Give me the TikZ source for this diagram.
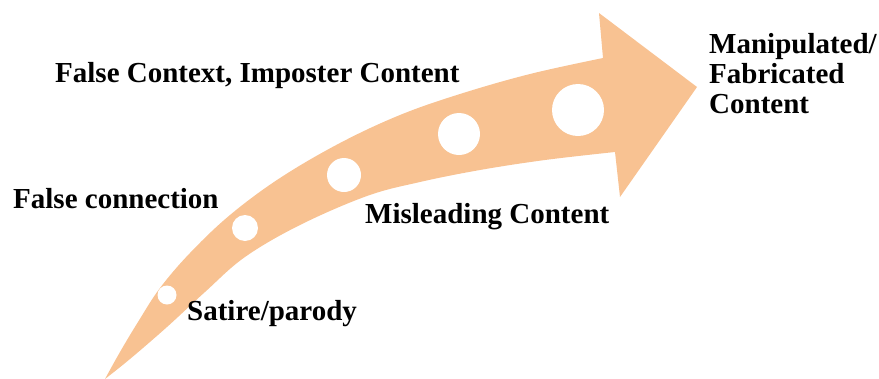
\documentclass[tikz,border=0pt]{standalone}
\usepackage{fontspec}
\setmainfont{Liberation Serif}
\definecolor{arrowfill}{RGB}{248,194,146}
\begin{document}
\begin{tikzpicture}[x=1pt,y=-1pt,
  lbl/.style={font=\bfseries\fontsize{29}{30}\selectfont, anchor=base west, inner sep=0pt, align=left},
  dot/.style={circle, fill=white, draw=none, inner sep=0pt}]
\useasboundingbox (0,0) rectangle (879,378);
% curved arrow
\fill[arrowfill] (105,379)
  -- plot[smooth, tension=0.6] coordinates {(105,379) (120,352) (138,322) (160,288) (190,253) (230,215) (280,178) (340,143) (400,115) (460,94) (530,74) (603,58)}
  -- (599,13) -- (697,87) -- (620,197) -- (615,152)
  -- plot[smooth, tension=0.6] coordinates {(615,152) (545,160) (480,170) (420,182) (367,196) (300,225) (245,257) (205,292) (167,327) (130,359) (105,379)}
  -- cycle;
% dots
\node[dot, minimum size=19pt] (d1) at (167,295) {};
\node[dot, minimum size=26pt] (d2) at (245,228) {};
\node[dot, minimum size=34pt] (d3) at (344,175) {};
\node[dot, minimum size=42pt] (d4) at (459,134) {};
\node[dot, minimum size=52pt] (d5) at (578,110) {};
% labels
\node[lbl] (l1) at (55,82) {False Context, Imposter Content};
\node[lbl] (l2) at (13,208) {False connection};
\node[lbl] (l3) at (187,320) {Satire/parody};
\node[lbl] (l4) at (365,223) {Misleading Content};
\node[lbl] (l5) at (709,113) {Manipulated/\\Fabricated\\Content};
\end{tikzpicture}
\end{document}
